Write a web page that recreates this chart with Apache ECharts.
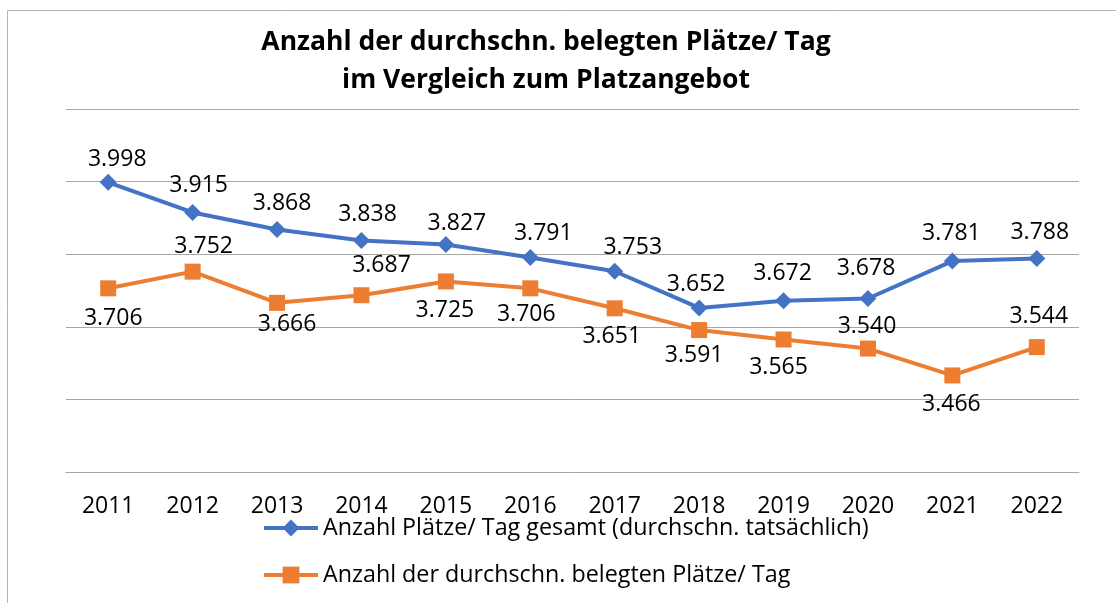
<!DOCTYPE html>
<html><head><meta charset="utf-8">
<script src="https://cdn.jsdelivr.net/npm/echarts@6/dist/echarts.min.js"></script>
<style>html,body{margin:0;padding:0;background:#fff;overflow:hidden}#c{width:1116px;height:603px}</style>
</head><body><div id="c"></div>
<script>
const categories = ['2011','2012','2013','2014','2015','2016','2017','2018','2019','2020','2021','2022'];
const gesamt = [3998,3915,3868,3838,3827,3791,3753,3652,3672,3678,3781,3788];
const belegt = [3706,3752,3666,3687,3725,3706,3651,3591,3565,3540,3466,3544];
const titleLines = ['Anzahl der durchschn. belegten Plätze/ Tag','im Vergleich zum Platzangebot'];
const seriesNames = ['Anzahl Plätze/ Tag gesamt (durchschn. tatsächlich)','Anzahl der durchschn. belegten Plätze/ Tag'];
const yMin = 3200, yMax = 4200, yStep = 200;

// label placement (style only, relative to each marker)
const gesamtLabelShift = [[9,-23],[6,-27],[5,-26],[6,-26],[11,-21],[13,-24],[18,-24],[-3,-23],[-1,-27],[-2,-30],[-1,-28],[3,-26]];
const belegtLabelShift = [[5,30],[11,-25],[10,22],[20,-30],[-1,29],[-4,26],[-3,28],[-5,25],[-5,28],[-1,-22],[-1,29],[2,-31]];

const FONT = 'Open Sans';
const fmt = v => Math.floor(v/1000) + '.' + String(v % 1000).padStart(3,'0');
const build = (vals, shifts) => vals.map((v,i) => ({value: v, label: {offset: shifts[i]}}));

const chart = echarts.init(document.getElementById('c'), null, {renderer:'canvas'});
chart.setOption({
  animation: false,
  backgroundColor: '#fff',
  textStyle: {fontFamily: FONT},
  title: {
    text: titleLines.join('\n'),
    left: 546, top: 23, padding: 0, textAlign: 'center',
    textStyle: {fontFamily: FONT, fontWeight: 'bold', fontSize: 26.5, lineHeight: 38, color: '#000'}
  },
  graphic: [{type:'rect', shape:{x:7.5, y:10.5, width:2000, height:1000}, style:{fill:'none', stroke:'#b4b4b4', lineWidth:1}, silent:true, z:-1}],
  legend: {
    orient: 'vertical', left: 262, top: 516, itemGap: 23, padding: 0,
    itemWidth: 54, itemHeight: 21,
    lineStyle: {width: 4},
    textStyle: {fontFamily: FONT, fontSize: 23.3, lineHeight: 24, color: '#000'},
    data: seriesNames
  },
  grid: {left: 66, right: 37, top: 109, bottom: 131, containLabel: false},
  xAxis: {
    type: 'category', data: categories, boundaryGap: true,
    axisLine: {lineStyle: {color: '#a6a6a6', width: 1}},
    axisTick: {show: false},
    axisLabel: {fontFamily: FONT, fontSize: 23, lineHeight: 23, color: '#000', margin: 23}
  },
  yAxis: {
    type: 'value', min: yMin, max: yMax, interval: yStep,
    axisLabel: {show: false}, axisLine: {show: false}, axisTick: {show: false},
    splitLine: {lineStyle: {color: '#a6a6a6', width: 1}}
  },
  series: [
    {
      name: seriesNames[0], type: 'line', data: build(gesamt, gesamtLabelShift),
      symbol: 'diamond', symbolSize: 17,
      lineStyle: {color: '#4472C4', width: 4}, itemStyle: {color: '#4472C4'},
      label: {show: true, position: 'inside', formatter: p => fmt(p.value), fontFamily: FONT, fontSize: 23, color: '#000'},
      z: 3
    },
    {
      name: seriesNames[1], type: 'line', data: build(belegt, belegtLabelShift),
      symbol: 'rect', symbolSize: 16,
      lineStyle: {color: '#ED7D31', width: 4}, itemStyle: {color: '#ED7D31'},
      label: {show: true, position: 'inside', formatter: p => fmt(p.value), fontFamily: FONT, fontSize: 23, color: '#000'},
      z: 2
    }
  ]
});
</script></body></html>
